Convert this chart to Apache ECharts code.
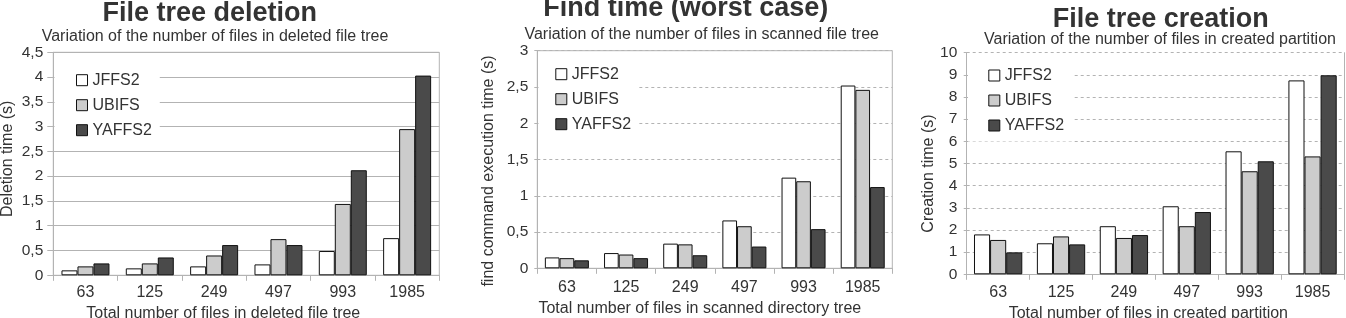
<!DOCTYPE html>
<html><head><meta charset="utf-8">
<script src="https://cdn.jsdelivr.net/npm/echarts@6/dist/echarts.min.js"></script>
<style>html,body{margin:0;padding:0;background:#fff}#c{width:1346px;height:318px}</style>
</head><body><div id="c"></div>
<script>
const categories = ['63','125','249','497','993','1985'];
const seriesNames = ['JFFS2','UBIFS','YAFFS2'];
// File tree deletion (s)
const delJFFS2  = [0.10, 0.14, 0.18, 0.22, 0.49, 0.75];
const delUBIFS  = [0.18, 0.24, 0.40, 0.73, 1.44, 2.95];
const delYAFFS2 = [0.24, 0.36, 0.61, 0.61, 2.12, 4.03];
// Find time (s)
const findJFFS2  = [0.15, 0.21, 0.34, 0.66, 1.25, 2.52];
const findUBIFS  = [0.14, 0.19, 0.33, 0.58, 1.20, 2.46];
const findYAFFS2 = [0.11, 0.14, 0.18, 0.30, 0.54, 1.12];
// File tree creation (s)
const creJFFS2  = [1.80, 1.40, 2.17, 3.07, 5.55, 8.75];
const creUBIFS  = [1.55, 1.71, 1.64, 2.17, 4.65, 5.32];
const creYAFFS2 = [0.99, 1.35, 1.77, 2.81, 5.10, 8.98];

const titles = ['File tree deletion','Find time (worst case)','File tree creation'];
const subtitles = ['Variation of the number of files in deleted file tree',
  'Variation of the number of files in scanned file tree',
  'Variation of the number of files in created partition'];
const xNames = ['Total number of files in deleted file tree',
  'Total number of files in scanned directory tree',
  'Total number of files in created partition'];
const yNames = ['Deletion time (s)','find command execution time (s)','Creation time (s)'];
const yRanges = [[0,4.5,0.5],[0,3,0.5],[0,10,1]];

const FONT = '"Liberation Sans", Arial, sans-serif';
const TXT = '#333';
const LINE = '#b3b3b3';
const colors = ['#ffffff','#cccccc','#4a4a4a'];
const panelData = [[delJFFS2,delUBIFS,delYAFFS2],[findJFFS2,findUBIFS,findYAFFS2],[creJFFS2,creUBIFS,creYAFFS2]];

const grids = [
  {left:53.3, top:52.3, width:386, height:223},
  {left:537.3, top:50.7, width:355, height:217.6},
  {left:966.7, top:52.7, width:377.3, height:221.6}
];
const titleLayout = [
  {cx:209.7, top:0.5, scx:215, stop:28.2},
  {cx:685.8, top:-4.8, scx:701.7, stop:27},
  {cx:1160.8, top:6.5, scx:1160, stop:32}
];
const xNameCfg = [{gap:27.7, pad:46},{gap:28.7, pad:30},{gap:26.7, pad:14}];
const yNameCfg = [{gap:37.3, pad:[0,0,0,10]},{gap:41,pad:[0,23,0,0]},{gap:30.4,pad:[0,20,0,0]}];
const yLabelMargin = [10, 9, 9.4];
const xLabelMargin = [9.5, 11, 10];
const dashed = [false, true, true];
const legendCfg = [
  {left:54.5, top:60, pad:[12.2,8,8,21.5]},
  {left:538.5, top:56, pad:[10.2,8,8,16.8]},
  {left:968, top:58, pad:[9.5,8,8,20.3]}
];
const catGap = ['25.4%','25.6%','23.2%'];

const option = {
  animation:false,
  textStyle:{fontFamily:FONT, color:TXT},
  title:[], grid:[], xAxis:[], yAxis:[], series:[], legend:[]
};
for (let p=0;p<3;p++){
  const tl = titleLayout[p];
  option.title.push({text:titles[p], left:tl.cx, top:tl.top, textAlign:'center', padding:0,
    textStyle:{fontFamily:FONT, fontSize:27, fontWeight:'bold', color:TXT, lineHeight:27}});
  option.title.push({text:subtitles[p], left:tl.scx, top:tl.stop, textAlign:'center', padding:0,
    textStyle:{fontFamily:FONT, fontSize:16, fontWeight:'normal', color:TXT, lineHeight:16}});
  const g = grids[p];
  option.grid.push({left:g.left, top:g.top, width:g.width, height:g.height,
    show:p<2, borderColor:LINE, borderWidth:1, backgroundColor:'transparent', containLabel:false,
    outerBoundsMode:'none'});
  const ls = {color:LINE, width:1, type: dashed[p] ? [3,3] : 'solid'};
  option.xAxis.push({type:'category', gridIndex:p, data:categories,
    axisLine:{lineStyle:{color:LINE}},
    axisTick:{show:true, length:5.5, interval:0, lineStyle:{color:LINE}},
    axisLabel:{fontSize:16, color:TXT, margin:xLabelMargin[p], interval:0},
    name:xNames[p], nameLocation:'middle', nameGap:xNameCfg[p].gap,
    nameTextStyle:{fontSize:16, color:TXT, padding:[0,xNameCfg[p].pad,0,0]}
  });
  const r = yRanges[p];
  option.yAxis.push({type:'value', gridIndex:p, min:r[0], max:r[1], interval:r[2],
    axisLine:{show:true, lineStyle:{color:LINE}},
    axisTick:{show:true, length:6, lineStyle:ls},
    splitLine:{show:true, lineStyle:ls},
    axisLabel:{fontSize:15.5, color:TXT, margin:yLabelMargin[p],
      formatter: v => String(v).replace('.', ',')},
    name:yNames[p], nameLocation:'middle', nameGap:yNameCfg[p].gap,
    nameTextStyle:{fontSize:16, color:TXT, padding:yNameCfg[p].pad}
  });
  for (let s=0;s<3;s++){
    option.series.push({type:'bar', name:seriesNames[s], xAxisIndex:p, yAxisIndex:p,
      data:panelData[p][s], barGap:'0%', barCategoryGap:catGap[p],
      itemStyle:{color:colors[s], borderColor:'#111', borderWidth:1}
    });
  }
  const lc = legendCfg[p];
  option.legend.push({data:seriesNames, orient:'vertical', left:lc.left, top:lc.top,
    padding:lc.pad, itemGap:9, itemWidth:11, itemHeight:11, icon:'rect',
    backgroundColor:'#fff', selectedMode:false,
    itemStyle:{borderColor:'#111', borderWidth:1},
    textStyle:{fontSize:16, color:TXT, fontFamily:FONT, lineHeight:16}
  });
}
// right border for third panel (top border there is the dashed split line)
option.yAxis.push({type:'value', gridIndex:2, position:'right', min:0, max:10,
  axisLine:{show:true, lineStyle:{color:LINE}}, axisTick:{show:false},
  axisLabel:{show:false}, splitLine:{show:false}});

const chart = echarts.init(document.getElementById('c'), null, {renderer:'canvas'});
chart.setOption(option);
</script></body></html>
